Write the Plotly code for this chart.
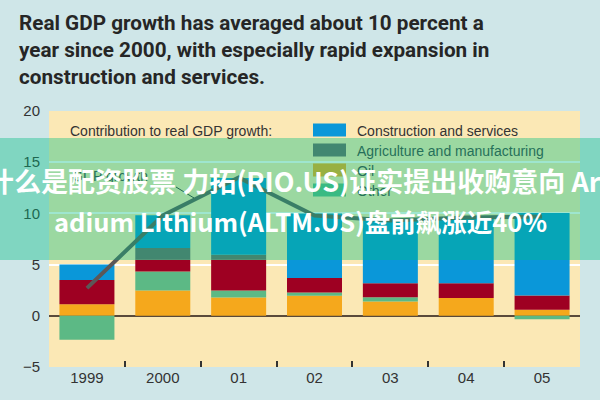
import plotly.graph_objects as go

years = ["1999", "2000", "01", "02", "03", "04", "05"]
oil = [1.14, 2.47, 1.79, 1.95, 1.40, 1.73, 0.59]
other = [-2.34, 1.86, 0.68, 0.33, 0.42, 0.0, -0.33]
red_component = [2.36, 1.14, 3.00, 1.40, 1.37, 1.46, 1.39]
agri_manuf = [0.0, 1.14, 0.49, 0.0, 0.0, 0.0, 0.0]
constr_serv = [1.50, 3.20, 7.50, 6.30, 6.10, 6.40, 8.05]
gdp_growth = [2.7, 9.8, 13.5, 9.8, 9.3, 9.6, 9.7]

C_BLUE = "#0a97d9"
C_GRAY = "#6b6666"
C_ORANGE = "#f5a81c"
C_GREEN = "#5cb985"
C_RED = "#9e0022"
C_LINE = "#5c5757"
BG = "#cfe6e8"
PLOT_BG = "#fbe8b5"
TXT = "#333333"
TXT_TINT = "#26705a"

L, R, T, B = 49, 20, 111, 33
W, H = 600, 400
PW, PH = W - L - R, H - T - B


def px(xp):
    return (xp - L) / PW


def py(yp):
    return (H - B - yp) / PH


fig = go.Figure()
for vals, col in [(oil, C_ORANGE), (other, C_GREEN), (red_component, C_RED),
                  (agri_manuf, C_GRAY), (constr_serv, C_BLUE)]:
    fig.add_trace(go.Bar(x=years, y=vals, marker=dict(color=col, line=dict(width=0)),
                         showlegend=False, hoverinfo="skip"))
fig.add_trace(go.Scatter(x=years, y=gdp_growth, mode="lines",
                         line=dict(color=C_LINE, width=4), showlegend=False))

shapes = []
annotations = []

# title
annotations.append(dict(
    x=px(17), y=py(9), xref="paper", yref="paper", xanchor="left", yanchor="top",
    align="left", showarrow=False,
    text="Real GDP growth has averaged about 10 percent a<br>year since 2000, with especially rapid expansion in<br>construction and services.",
    font=dict(family="Liberation Sans Narrow, Roboto, Arial", size=20.7, color="#262626", weight="bold")))

annotations.append(dict(
    x=px(68), y=py(131), xref="paper", yref="paper", xanchor="left", yanchor="middle",
    showarrow=False, text="Contribution to real GDP growth:",
    font=dict(family="Liberation Sans, Arial", size=14, color=TXT)))

legend_items = [(C_BLUE, "Construction and services", 130, TXT),
                (C_GRAY, "Agriculture and manufacturing", 150, TXT_TINT),
                (C_ORANGE, "Oil", 170, TXT_TINT),
                (C_GREEN, "Other", 190, TXT_TINT)]
for col, lab, yc, tc in legend_items:
    shapes.append(dict(type="rect", xref="paper", yref="paper", layer="above",
                       x0=px(313), x1=px(346), y0=py(yc + 6.5), y1=py(yc - 6.5),
                       fillcolor=col, line=dict(width=0)))
    annotations.append(dict(
        x=px(355), y=py(yc + 1), xref="paper", yref="paper", xanchor="left", yanchor="middle",
        showarrow=False, text=lab, font=dict(family="Liberation Sans, Arial", size=14, color=tc)))

# GDP growth label
annotations.append(dict(
    x=px(70), y=py(176), xref="paper", yref="paper", xanchor="left", yanchor="middle",
    showarrow=False, text="GDP growth", font=dict(family="Liberation Sans, Arial", size=14, color=TXT_TINT)))
shapes.append(dict(type="line", xref="paper", yref="paper", layer="above",
                   x0=px(176), y0=py(187), x1=px(194), y1=py(198),
                   line=dict(color="#333333", width=1)))

# overlay banner
shapes.append(dict(type="rect", xref="paper", yref="paper", layer="above",
                   x0=px(-5), x1=px(605), y0=py(260), y1=py(138),
                   fillcolor="rgba(0,190,130,0.38)", line=dict(width=0)))
annotations.append(dict(
    x=px(300), y=py(180), xref="paper", yref="paper", xanchor="center", yanchor="middle",
    showarrow=False, text="什么是配资股票 力拓(RIO.US)证实提出收购意向 Arc",
    font=dict(family="Noto Sans CJK SC", size=27, color="white", weight="bold")))
annotations.append(dict(
    x=px(300), y=py(220), xref="paper", yref="paper", xanchor="center", yanchor="middle",
    showarrow=False, text="adium Lithium(ALTM.US)盘前飙涨近40%",
    font=dict(family="Noto Sans CJK SC", size=25.5, color="white", weight="bold")))

fig.update_layout(
    width=W, height=H, margin=dict(l=L, r=R, t=T, b=B, autoexpand=False),
    paper_bgcolor=BG, plot_bgcolor=PLOT_BG,
    barmode="relative", bargap=0.275,
    shapes=shapes, annotations=annotations,
    xaxis=dict(type="category", ticks="inside", tickson="boundaries", ticklen=6,
               tickwidth=2, tickcolor="#333333", showgrid=False, showline=False,
               tickfont=dict(family="Liberation Sans, Arial", size=15, color=TXT), fixedrange=True),
    yaxis=dict(range=[-5, 20], dtick=5, showgrid=True, gridcolor="white", gridwidth=2,
               zeroline=True, zerolinecolor="#5a4a3a", zerolinewidth=2,
               tickfont=dict(family="Liberation Sans, Arial", size=15, color=TXT),
               ticks="", ticklabelstandoff=8, fixedrange=True),
)

fig.write_html("out.html", config={"displayModeBar": False},
               post_script="document.body.style.margin='0px';document.body.style.background='#cfe6e8';")
